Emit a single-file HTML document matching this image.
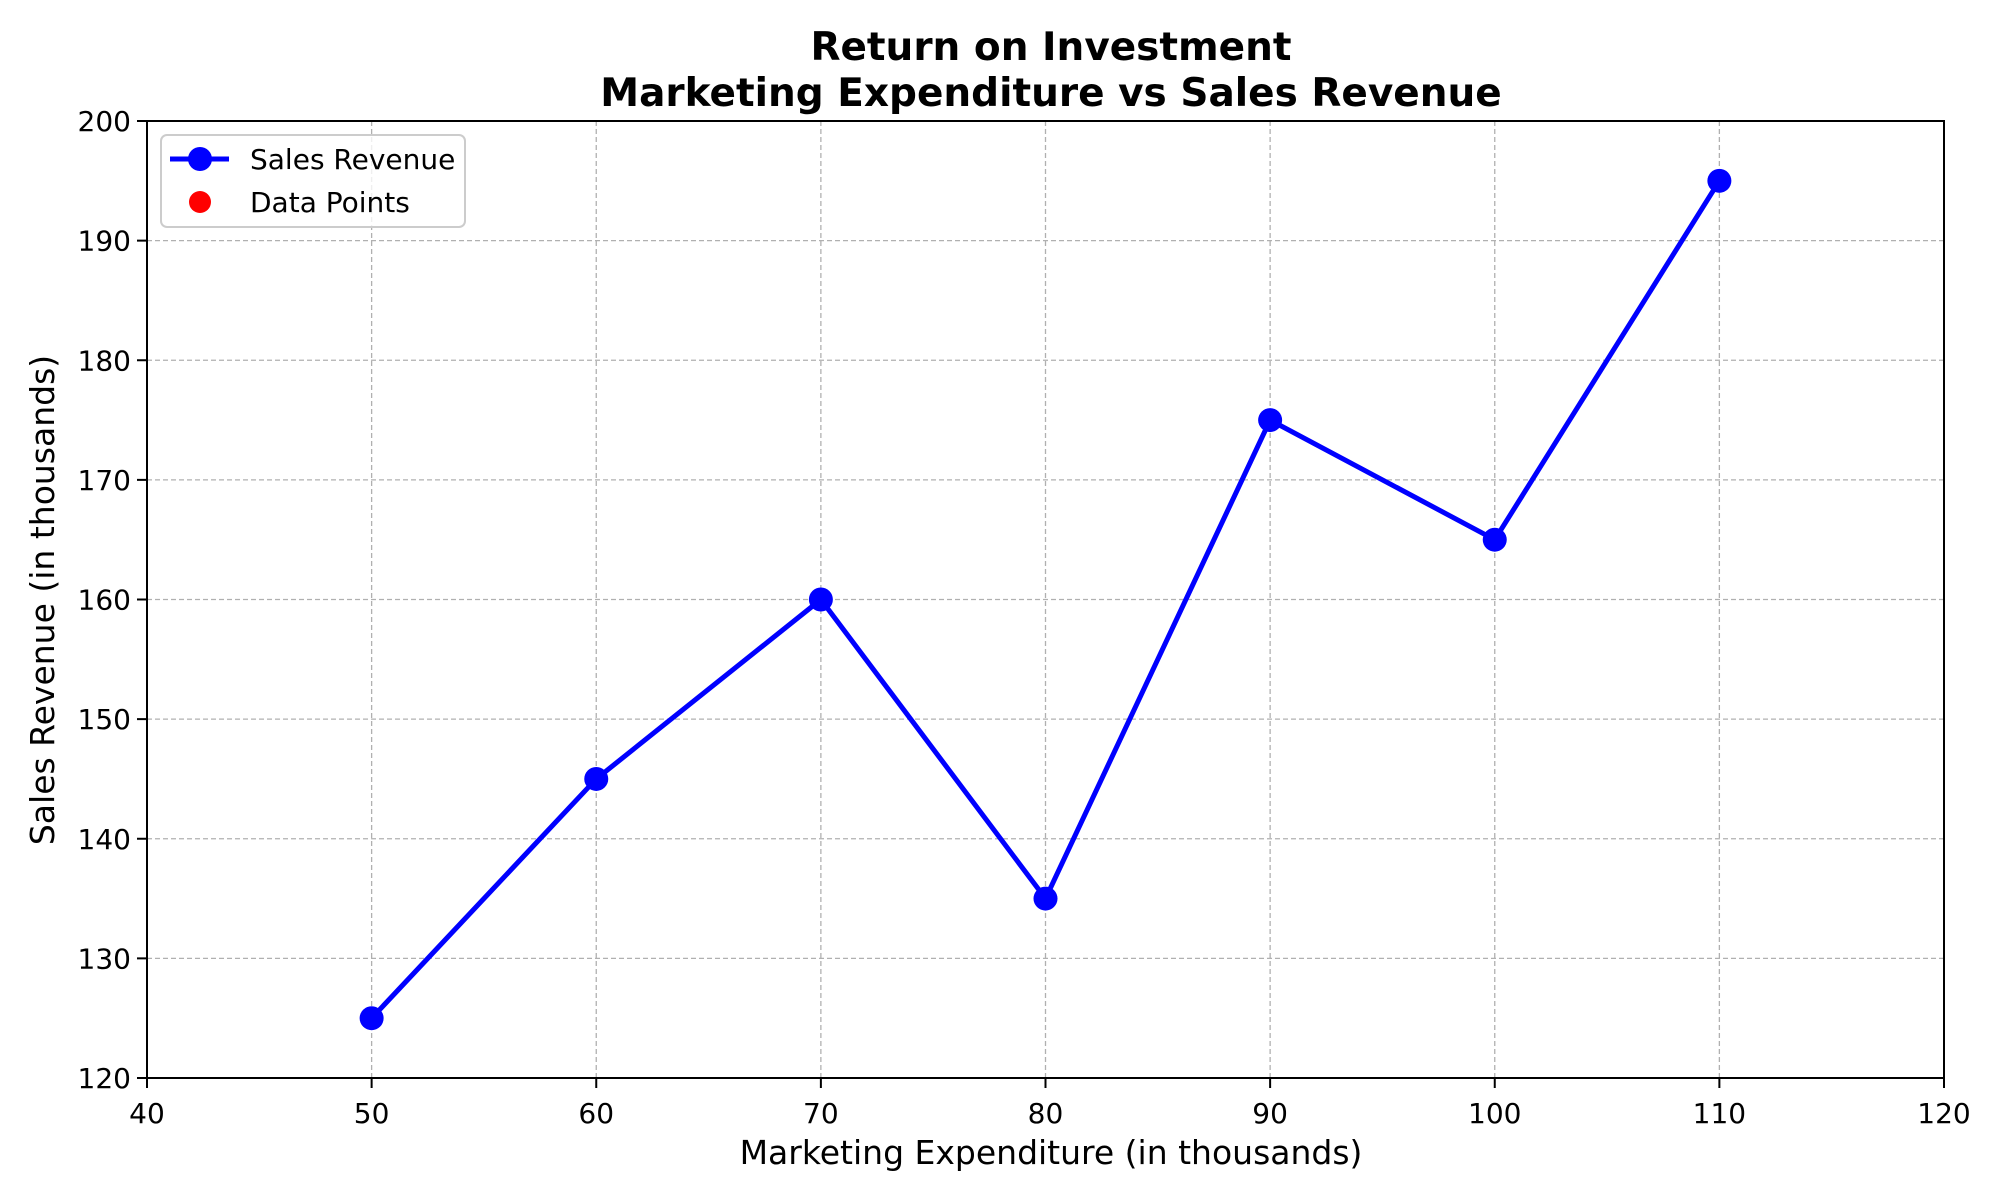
<!DOCTYPE html>
<html><head><meta charset="utf-8"><style>body{margin:0;background:#fff}svg{display:block;font-family:"DejaVu Sans","Liberation Sans",sans-serif}</style></head>
<body>
<svg id="chart" width="2000" height="1200">
<text x="1051" y="60" text-anchor="middle" font-size="39" font-weight="bold">Return on Investment</text>
<text x="1051" y="106" text-anchor="middle" font-size="39" font-weight="bold">Marketing Expenditure vs Sales Revenue</text>
<g id="grid"></g><g id="axes"></g><g id="series"></g>
<text x="1051" y="1164" text-anchor="middle" font-size="33">Marketing Expenditure (in thousands)</text>
<text transform="translate(54,600) rotate(-90)" text-anchor="middle" font-size="33">Sales Revenue (in thousands)</text>
<g>
<rect x="161" y="135" width="304" height="92" rx="6" fill="#fff" fill-opacity="0.8" stroke="#ccc" stroke-width="2"/>
<line x1="170" y1="159" x2="229" y2="159" stroke="#0000ff" stroke-width="5"/>
<circle cx="200" cy="159" r="12" fill="#0000ff"/>
<text x="250" y="169" font-size="28">Sales Revenue</text>
<circle cx="200" cy="202" r="11" fill="#ff0000"/>
<text x="250" y="212" font-size="28">Data Points</text>
</g>
</svg>
<script>
const xValues=[50,60,70,80,90,100,110];
const salesRevenue=[125,145,160,135,175,165,195];
const xTicks=[40,50,60,70,80,90,100,110,120];
const yTicks=[120,130,140,150,160,170,180,190,200];
const L=147,R=1944,T=121,B=1078;
const sx=v=>L+(v-40)/80*(R-L), sy=v=>B-(v-120)/80*(B-T);
const NS="http://www.w3.org/2000/svg";
function mk(p,t,a){const e=document.createElementNS(NS,t);for(const k in a)e.setAttribute(k,a[k]);document.getElementById(p).appendChild(e);return e;}
xTicks.forEach(v=>{const x=sx(v);
 const g=mk('grid','line',{x1:x,x2:x,y1:T,y2:B,stroke:'#b0b0b0','stroke-width':1.3,'stroke-dasharray':'5,3'});
 
 
 const k=mk('axes','line',{x1:x,x2:x,y1:B,y2:B+10,stroke:'#000','stroke-width':2});
 
 
 const t=mk('axes','text',{x:x,y:B+45,'text-anchor':'middle','font-size':28});t.textContent=v;
 
 
});
yTicks.forEach(v=>{const y=sy(v);
 const g=mk('grid','line',{x1:L,x2:R,y1:y,y2:y,stroke:'#b0b0b0','stroke-width':1.3,'stroke-dasharray':'5,3'});
 
 
 const k=mk('axes','line',{x1:L-10,x2:L,y1:y,y2:y,stroke:'#000','stroke-width':2});
 
 
 const t=mk('axes','text',{x:L-16,y:y+10,'text-anchor':'end','font-size':28});t.textContent=v;
 
 
});
const fr=mk('axes','rect',{x:L,y:T,width:R-L,height:B-T,fill:'none',stroke:'#000','stroke-width':2});


xValues.forEach((x,i)=>{const c=mk('series','circle',{cx:sx(x),cy:sy(salesRevenue[i]),r:11,fill:'#ff0000'});
 
 });
const pl=mk('series','polyline',{points:xValues.map((x,i)=>sx(x)+','+sy(salesRevenue[i])).join(' '),fill:'none',stroke:'#0000ff','stroke-width':5,'stroke-linejoin':'round'});


xValues.forEach((x,i)=>{const c=mk('series','circle',{cx:sx(x),cy:sy(salesRevenue[i]),r:12,fill:'#0000ff'});
 
 });
</script>
</body></html>
